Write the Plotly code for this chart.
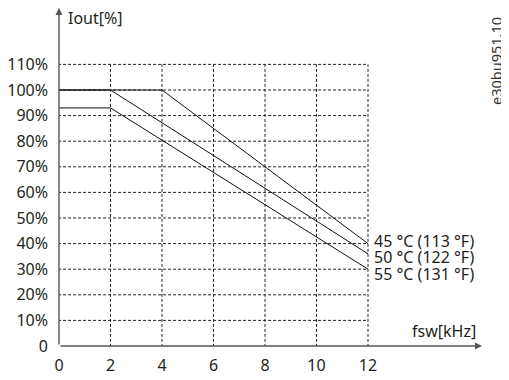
import plotly.graph_objects as go

# Data
x_45 = [0, 4, 12]
y_45 = [100, 100, 40]
x_50 = [0, 2, 12]
y_50 = [100, 100, 36]
x_55 = [0, 2, 12]
y_55 = [93, 93, 30]
series_labels = ["45 °C (113 °F)", "50 °C (122 °F)", "55 °C (131 °F)"]
x_ticks = [0, 2, 4, 6, 8, 10, 12]
y_ticks = [0, 10, 20, 30, 40, 50, 60, 70, 80, 90, 100, 110]
y_ticktext = ["0"] + [f"{v}%" for v in y_ticks[1:]]

FONT = "Noto Sans"
TXT = "#231f20"
OFF = 8  # page body margin offset
SW, SH = 509, 380          # screen size
W, H = SW - OFF, SH - OFF  # figure size
# plot area in screen pixels
PX0, PX1 = 59, 482
PY0, PY1 = 8, 346
ml, mr, mt, mb = PX0 - OFF, SW - PX1, PY0 - OFF, SH - PY1
XMAX = (PX1 - PX0) / 25.75
YMAX = (PY1 - PY0) / 2.56

fig = go.Figure()
for xs, ys in [(x_45, y_45), (x_50, y_50), (x_55, y_55)]:
    fig.add_trace(go.Scatter(x=xs, y=ys, mode="lines",
                             line=dict(color="#111111", width=1),
                             showlegend=False, hoverinfo="skip", cliponaxis=False))

shapes = []
for xv in x_ticks[1:]:
    shapes.append(dict(type="line", xref="x", yref="y", x0=xv, x1=xv, y0=-2.3, y1=y_ticks[-1],
                       line=dict(color="#222222", width=1, dash="3px,2px"), layer="below"))
for yv in y_ticks[1:]:
    shapes.append(dict(type="line", xref="x", yref="y", x0=-0.23, x1=x_ticks[-1], y0=yv, y1=yv,
                       line=dict(color="#222222", width=1, dash="3px,2px"), layer="below"))

annotations = []
# axis arrows
annotations.append(dict(x=XMAX, y=0, ax=0, ay=0, xref="x", yref="y", axref="x", ayref="y",
                        showarrow=True, arrowhead=2, arrowsize=1, arrowwidth=1.4,
                        arrowcolor="#555555", text=""))
annotations.append(dict(x=0, y=YMAX, ax=0, ay=0, xref="x", yref="y", axref="x", ayref="y",
                        showarrow=True, arrowhead=2, arrowsize=1, arrowwidth=1.4,
                        arrowcolor="#555555", text=""))
pix_ann = []
pix_ann.append(dict(x=66, y=18, text="Iout[%]", xanchor="left", size=16, angle=0, color=TXT))
pix_ann.append(dict(x=478, y=331, text="fsw[kHz]", xanchor="right", size=16, angle=0, color=TXT))
for lbl, py in zip(series_labels, [241, 256.5, 274]):
    pix_ann.append(dict(x=372, y=py, text=lbl, xanchor="left", size=16, angle=0, color=TXT))
pix_ann.append(dict(x=496, y=61, text="e30bu951.10", xanchor="center", size=14.5, angle=-90,
                    color="#333333"))

pw = PX1 - PX0
ph = PY1 - PY0
for p in pix_ann:
    annotations.append(dict(x=(p["x"] - PX0) / pw, y=(PY1 - p["y"]) / ph,
                            xref="paper", yref="paper", text=p["text"], showarrow=False,
                            xanchor=p["xanchor"], yanchor="middle", textangle=p["angle"],
                            font=dict(family=FONT, size=p["size"], color=p["color"])))

fig.update_layout(
    width=W, height=H,
    margin=dict(l=ml, r=mr, t=mt, b=mb, pad=0, autoexpand=False),
    plot_bgcolor="white", paper_bgcolor="white",
    shapes=shapes, annotations=annotations,
    font=dict(family=FONT, size=16, color=TXT),
    xaxis=dict(range=[0, XMAX], tickvals=x_ticks, ticktext=[str(v) for v in x_ticks],
               showgrid=False, zeroline=False, showline=False, ticks="",
               ticklabelstandoff=8, automargin=False,
               tickfont=dict(family=FONT, size=16, color=TXT)),
    yaxis=dict(range=[0, YMAX], tickvals=y_ticks, ticktext=y_ticktext,
               showgrid=False, zeroline=False, showline=False, ticks="",
               ticklabelstandoff=10, automargin=False,
               tickfont=dict(family=FONT, size=16, color=TXT)),
)
fig.write_html("out.html")
